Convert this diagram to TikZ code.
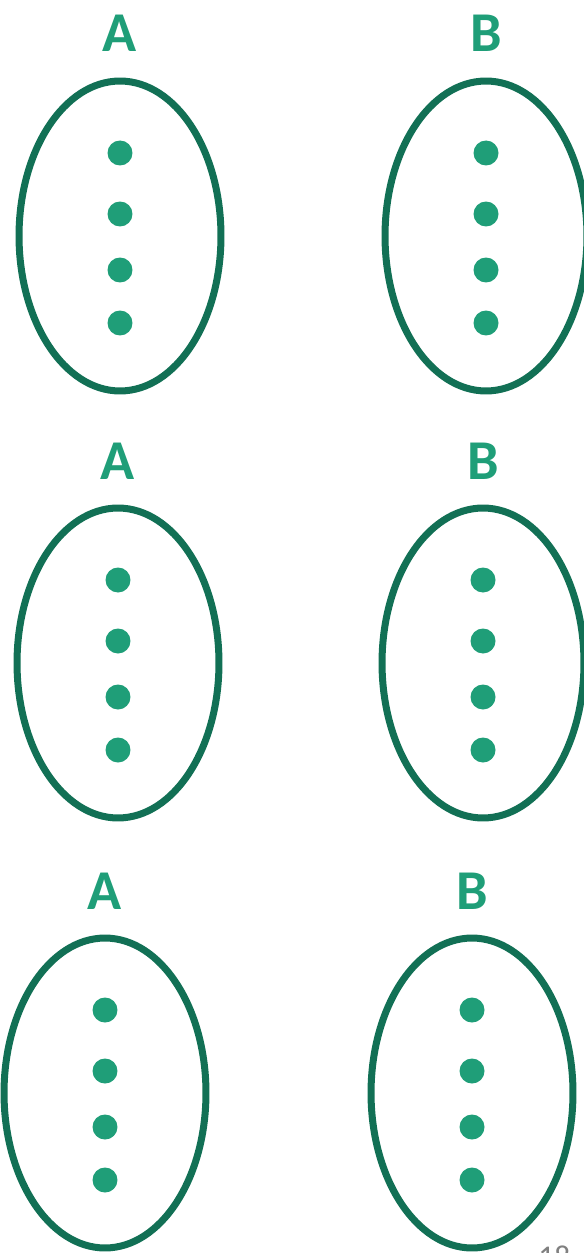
\documentclass[tikz,border=0pt]{standalone}
\usepackage{fontspec}
\setmainfont{Carlito}
\usetikzlibrary{shapes.geometric}

\definecolor{setline}{HTML}{127055}
\definecolor{setfill}{HTML}{1F9E78}

\tikzset{
  setellipse/.style={ellipse, draw=setline, line width=0.14cm,
    minimum width=4.04cm, minimum height=6.2cm, inner sep=0pt},
  elemdot/.style={circle, fill=setfill, minimum size=0.5cm, inner sep=0pt},
  setlabel/.style={anchor=base, inner sep=0pt, text=setfill,
    font=\bfseries\fontsize{32}{32}\selectfont}
}

\begin{document}
\begin{tikzpicture}[x=0.02cm, y=-0.02cm]
\useasboundingbox (0,0) rectangle (584,1253);
\clip (0,0) rectangle (584,1253);
% three rows, each with set A and set B
\foreach \r/\ax/\bx/\cy in {1/120/486/236, 2/118/483/663, 3/105/472/1093}{
  \node[setellipse] (setA\r) at (\ax,\cy) {};
  \node[setellipse] (setB\r) at (\bx,\cy) {};
  \node[setlabel] (labA\r) at (\ax,\cy-184) {A};
  \node[setlabel] (labB\r) at (\bx,\cy-184) {B};
  \foreach \i/\dy in {1/-83, 2/-22, 3/34, 4/87}{
    \node[elemdot] (dotA\r\i) at (\ax,\cy+\dy) {};
    \node[elemdot] (dotB\r\i) at (\bx,\cy+\dy) {};
  }
}
% slide number, cut by the page edge
\node[anchor=north west, inner sep=0pt, text=gray, font=\fontsize{18}{18}\selectfont] (pagenum) at (538,1246) {18};
\end{tikzpicture}
\end{document}
